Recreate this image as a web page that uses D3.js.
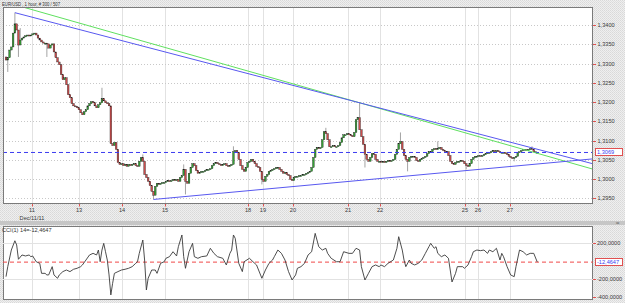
<!DOCTYPE html>
<html>
<head>
<meta charset="utf-8">
<script src="https://cdn.jsdelivr.net/npm/d3@7"></script>
<style>
  body { margin: 0; background: #e6e6e6; }
  svg { display: block; font-family: "Liberation Sans", Arial, sans-serif; }
</style>
</head>
<body>
<svg id="chart" width="625" height="303"></svg>
<script>
// EUR/USD 1h, 300 bars, closes (open = previous close)
var firstOpen = 1.3317;
var closes = [
  1.3309,1.3315,1.3335,1.3343,1.3379,1.3403,1.3387,1.3348,1.3361,1.3366,
  1.3369,1.3372,1.3374,1.3372,1.3374,1.3377,1.3379,1.3374,1.3366,1.3361,
  1.3356,1.3353,1.3353,1.3351,1.3340,1.3348,1.3351,1.3330,1.3315,1.3304,
  1.3297,1.3271,1.3258,1.3263,1.3245,1.3219,1.3211,1.3196,1.3190,1.3188,
  1.3185,1.3180,1.3172,1.3167,1.3175,1.3180,1.3190,1.3196,1.3201,1.3198,
  1.3190,1.3185,1.3193,1.3198,1.3209,1.3203,1.3198,1.3196,1.3190,1.3092,
  1.3087,1.3095,1.3077,1.3043,1.3038,1.3040,1.3035,1.3038,1.3033,1.3038,
  1.3035,1.3038,1.3040,1.3035,1.3033,1.3046,1.3056,1.3046,1.3012,1.3004,
  1.2994,1.2983,1.2968,1.2958,1.2981,1.2989,1.2986,1.2989,1.2991,1.2991,
  1.2994,1.2996,1.2994,1.2996,1.2999,1.2996,1.2999,1.2994,1.3004,1.3009,
  1.3025,1.2994,1.2989,1.3015,1.3030,1.3040,1.3035,1.3022,1.3015,1.3017,
  1.3020,1.3020,1.3022,1.3025,1.3025,1.3027,1.3035,1.3040,1.3043,1.3040,
  1.3038,1.3035,1.3038,1.3040,1.3035,1.3033,1.3035,1.3038,1.3071,1.3074,
  1.3069,1.3051,1.3035,1.3025,1.3020,1.3030,1.3043,1.3046,1.3051,1.3046,
  1.3040,1.3033,1.3030,1.3020,1.2999,1.2994,1.3007,1.3012,1.3020,1.3022,
  1.3025,1.3027,1.3030,1.3030,1.3025,1.3020,1.3015,1.3017,1.3012,1.3009,
  1.2999,1.2996,1.3004,1.3007,1.3007,1.3009,1.3009,1.3012,1.3012,1.3015,
  1.3017,1.3020,1.3030,1.3056,1.3077,1.3082,1.3079,1.3082,1.3102,1.3123,
  1.3118,1.3102,1.3084,1.3084,1.3087,1.3084,1.3084,1.3087,1.3095,1.3107,
  1.3115,1.3115,1.3118,1.3115,1.3113,1.3110,1.3121,1.3154,1.3159,1.3128,
  1.3110,1.3090,1.3064,1.3051,1.3046,1.3056,1.3066,1.3064,1.3051,1.3046,
  1.3046,1.3043,1.3046,1.3043,1.3046,1.3048,1.3046,1.3048,1.3051,1.3064,
  1.3077,1.3092,1.3097,1.3077,1.3061,1.3051,1.3046,1.3056,1.3059,1.3059,
  1.3056,1.3048,1.3046,1.3051,1.3053,1.3056,1.3059,1.3066,1.3071,1.3071,
  1.3077,1.3079,1.3077,1.3079,1.3082,1.3077,1.3074,1.3071,1.3071,1.3061,
  1.3046,1.3040,1.3038,1.3043,1.3046,1.3046,1.3048,1.3046,1.3040,1.3035,
  1.3033,1.3040,1.3051,1.3056,1.3059,1.3059,1.3061,1.3059,1.3061,1.3064,
  1.3066,1.3069,1.3069,1.3071,1.3074,1.3071,1.3074,1.3071,1.3069,1.3069,
  1.3069,1.3066,1.3064,1.3059,1.3056,1.3053,1.3056,1.3059,1.3069,1.3071,
  1.3074,1.3077,1.3077,1.3074,1.3077,1.3079,1.3077,1.3071,1.3069,1.3069
];
// visible wicks: [bar, price]
var spikeHigh = [[5,1.3432],[8,1.3392],[54,1.3237],[77,1.3064],[100,1.3038],[128,1.3085],
  [180,1.3133],[199,1.3198],[222,1.3121],[243,1.3098],[296,1.3085]];
var spikeLow = [[1,1.3278],[7,1.3317],[23,1.3317],[83,1.2947],[101,1.2960],[144,1.2986],
  [202,1.3030],[226,1.3020],[259,1.3025],[286,1.3046]];

var priceTicks = [1.2950,1.3000,1.3050,1.3100,1.3150,1.3200,1.3250,1.3300,1.3350,1.3400];
var lastPrice = 1.3069;

// day separators (bar position) and their labels
var dayBars = [14.6,41.1,65.3,89.5,136.2,144.6,161.5,192.5,210.5,258.3,265.6,283.6];
var dayLabels = ["11","13","14","15","18","19","20","21","22","25","26","27"];
var monthLabel = "Dec/11/11";

// trend lines: two anchor points [bar, price], extended to the right edge
var upperLine = [[5,1.3432],[199,1.3198]];
var greenLine = [[10,1.3446],[199,1.3198]];
var lowerLine = [[83,1.2947],[259,1.3022]];

// CCI(14)
var cciBars = [0,1,3,5,6,7,9,11,13,14,15,17,19,20,22,23,24,26,27,29,30,32,34,36,38,40,42,43,45,47,
  49,51,52,53,54,55,56,57,58,59,60,61,63,65,67,69,71,73,74,75,77,78,79,80,82,84,85,87,89,90,
  92,94,96,97,99,100,101,103,105,106,108,110,113,115,117,119,122,124,126,127,128,129,131,133,134,
  137,139,141,144,146,148,150,151,153,155,157,159,161,163,164,166,168,170,172,174,176,178,180,181,
  183,186,188,190,193,195,197,199,200,202,204,206,208,210,211,213,215,218,220,221,223,224,225,227,
  228,230,232,234,236,238,239,241,242,243,245,247,249,250,251,253,254,257,258,260,262,263,265,267,
  269,271,272,274,276,278,279,280,282,284,286,287,289,291,293,295,297,299];
var cciValues = [-174,-63,122,225,178,19,67,56,67,48,56,-8,-26,-137,-137,-155,-155,-63,-155,-192,
  -155,-118,-100,-118,-92,-81,-63,-44,11,67,85,67,122,-8,122,196,103,11,-155,-377,
  -248,-137,-118,-100,-92,-81,-63,-26,-8,85,233,11,-322,-192,-100,-100,-137,-26,-8,30,
  48,103,56,159,289,48,-81,103,196,48,30,48,56,141,85,48,30,-44,85,122,
  289,252,-26,-118,-8,30,-8,-44,-192,-100,-26,11,48,122,85,11,-118,-211,-155,-81,
  -63,-26,67,103,307,159,122,141,85,30,-8,-8,103,85,85,141,122,-63,-211,-137,
  -63,-44,-63,-44,-63,-26,11,141,270,122,11,-63,11,-26,-44,-26,11,85,159,196,
  141,159,85,48,67,30,-100,-233,-137,-63,-63,-81,-44,48,103,122,115,122,85,122,
  103,141,11,85,48,-63,-155,-174,-63,122,103,67,85,85,-12.4647];
var cciTicks = [200,-200,-400];
var cciLast = -12.4647;

// ---- layout
var svg = d3.select("#chart");
var L = 3, R = 593;
var main = {top: 7, bottom: 204};
var sub = {top: 226, bottom: 300};

var loc = d3.formatLocale({decimal: ",", thousands: ".", grouping: [3], currency: ["", ""], minus: "-"});
var fmt4 = loc.format(".4f");

var x = d3.scaleLinear().domain([0, 299]).range([6, 537.3]);
var y = d3.scaleLinear().domain([1.295, 1.34]).range([198.3, 25]);
var yc = d3.scaleLinear().domain([-200, 200]).range([279, 243]);

// dithered background
var defs = svg.append("defs");
var pat = defs.append("pattern").attr("id", "dots").attr("width", 2).attr("height", 2)
  .attr("patternUnits", "userSpaceOnUse");
pat.append("rect").attr("width", 2).attr("height", 2).attr("fill", "#efefef");
pat.append("rect").attr("width", 1).attr("height", 1).attr("fill", "#d9d9d9");
pat.append("rect").attr("x", 1).attr("y", 1).attr("width", 1).attr("height", 1).attr("fill", "#dfdfdf");
svg.append("rect").attr("width", 625).attr("height", 303).attr("fill", "url(#dots)");

// splitter between panels
svg.append("rect").attr("x", 0).attr("y", 221).attr("width", 625).attr("height", 4).attr("fill", "#c6c6c6");

["main", "sub"].forEach(function(n) {
  var p = n == "main" ? main : sub;
  defs.append("clipPath").attr("id", "clip-" + n).append("rect")
    .attr("x", L).attr("y", p.top).attr("width", R - L).attr("height", p.bottom - p.top);
  svg.append("rect").attr("x", L + 0.5).attr("y", p.top + 0.5)
    .attr("width", R - L - 1).attr("height", p.bottom - p.top - 1).attr("fill", "#fff");
});

// vertical day grid in both panels
[main, sub].forEach(function(p) {
  svg.append("g").selectAll("line").data(dayBars).join("line")
    .attr("x1", function(d) { return Math.round(x(d)) + 0.5; })
    .attr("x2", function(d) { return Math.round(x(d)) + 0.5; })
    .attr("y1", p.top).attr("y2", p.bottom)
    .attr("stroke", "#e2e2e2");
});

// price grid
svg.append("g").selectAll("line").data(priceTicks).join("line")
  .attr("x1", L).attr("x2", R)
  .attr("y1", function(d) { return Math.round(y(d)) + 0.5; })
  .attr("y2", function(d) { return Math.round(y(d)) + 0.5; })
  .attr("stroke", "#c8c8c8").attr("stroke-dasharray", "1,2");

// ---- candles
var bars = closes.map(function(c, i) {
  var o = i ? closes[i - 1] : firstOpen;
  return {i: i, o: o, c: c, h: Math.max(o, c), l: Math.min(o, c)};
});
spikeHigh.forEach(function(s) { bars[s[0]].h = Math.max(bars[s[0]].h, s[1]); });
spikeLow.forEach(function(s) { bars[s[0]].l = Math.min(bars[s[0]].l, s[1]); });

var plot = svg.append("g").attr("clip-path", "url(#clip-main)");

plot.append("g").selectAll("line").data(bars).join("line")
  .attr("x1", function(d) { return x(d.i); }).attr("x2", function(d) { return x(d.i); })
  .attr("y1", function(d) { return y(d.h); }).attr("y2", function(d) { return y(d.l); })
  .attr("stroke", "#9a9a9a").attr("stroke-width", 0.9);

plot.append("g").selectAll("rect").data(bars).join("rect")
  .attr("x", function(d) { return x(d.i) - 0.85; })
  .attr("width", 1.7)
  .attr("y", function(d) { return y(Math.max(d.o, d.c)); })
  .attr("height", function(d) { return Math.max(1, Math.abs(y(d.o) - y(d.c))); })
  .attr("fill", function(d) { return d.c >= d.o ? "#35a035" : "#cc4c4c"; })
  .attr("stroke", "#1e1e1e").attr("stroke-width", 0.35);

// current price line
plot.append("line").attr("x1", L).attr("x2", R)
  .attr("y1", y(lastPrice)).attr("y2", y(lastPrice))
  .attr("stroke", "#3c3cf0").attr("stroke-dasharray", "4,3");

// trend lines
var xEnd = x.invert(R);
function extend(pts) {
  var s = (pts[1][1] - pts[0][1]) / (pts[1][0] - pts[0][0]);
  return [pts[0], [xEnd, pts[1][1] + s * (xEnd - pts[1][0])]];
}
var tline = d3.line().x(function(d) { return x(d[0]); }).y(function(d) { return y(d[1]); });
[[greenLine, "#5fe05f"], [upperLine, "#5858f0"], [lowerLine, "#5858f0"]].forEach(function(t) {
  plot.append("path").attr("d", tline(extend(t[0])))
    .attr("fill", "none").attr("stroke", t[1]).attr("stroke-width", 1);
});

// frames
[main, sub].forEach(function(p) {
  svg.append("rect").attr("x", L + 0.5).attr("y", p.top + 0.5)
    .attr("width", R - L - 1).attr("height", p.bottom - p.top - 1)
    .attr("fill", "none").attr("stroke", "#7a7a7a");
});

// right price axis
var ax = svg.append("g").attr("font-size", 5.6).attr("fill", "#3a3a3a");
ax.selectAll("line").data(priceTicks).join("line")
  .attr("x1", R).attr("x2", R + 3)
  .attr("y1", function(d) { return Math.round(y(d)) + 0.5; })
  .attr("y2", function(d) { return Math.round(y(d)) + 0.5; })
  .attr("stroke", "#e05050");
ax.selectAll("text").data(priceTicks).join("text")
  .attr("x", R + 4.5).attr("y", function(d) { return y(d) + 2; })
  .text(fmt4);

function valueBox(yy, label) {
  svg.append("rect").attr("x", 595.5).attr("y", Math.round(yy) - 3.5)
    .attr("width", 27).attr("height", 7).attr("fill", "#fff").attr("stroke", "#e05050");
  svg.append("text").attr("x", 597).attr("y", yy + 2).attr("font-size", 5.6)
    .attr("fill", "#3c3cf0").text(label);
}
valueBox(y(lastPrice), fmt4(lastPrice));

// bottom day axis
var dx = svg.append("g").attr("font-size", 5.6).attr("fill", "#3a3a3a");
dx.selectAll("line").data(dayBars).join("line")
  .attr("x1", function(d) { return Math.round(x(d)) + 0.5; })
  .attr("x2", function(d) { return Math.round(x(d)) + 0.5; })
  .attr("y1", main.bottom).attr("y2", main.bottom + 2.5)
  .attr("stroke", "#e05050");
dx.selectAll("text").data(dayLabels).join("text")
  .attr("x", function(d, i) { return x(dayBars[i]); }).attr("y", 212)
  .attr("text-anchor", "middle").text(function(d) { return d; });
dx.append("text").attr("x", x(dayBars[0])).attr("y", 220)
  .attr("text-anchor", "middle").text(monthLabel);

// title
svg.append("text").attr("x", 2).attr("y", 5.5).attr("font-size", 5.6).attr("fill", "#333")
  .attr("textLength", 58).attr("lengthAdjust", "spacingAndGlyphs")
  .text("EUR/USD , 1 hour, # 300 / 507");

// ---- CCI panel
var cplot = svg.append("g").attr("clip-path", "url(#clip-sub)");
cplot.append("g").selectAll("line").data([200, -200]).join("line")
  .attr("x1", L).attr("x2", R)
  .attr("y1", function(d) { return Math.round(yc(d)) + 0.5; })
  .attr("y2", function(d) { return Math.round(yc(d)) + 0.5; })
  .attr("stroke", "#e2e2e2");
cplot.append("line").attr("x1", L).attr("x2", R)
  .attr("y1", yc(cciLast)).attr("y2", yc(cciLast))
  .attr("stroke", "#f04848").attr("stroke-dasharray", "4,3");
cplot.append("path")
  .attr("d", d3.line().x(function(d, i) { return x(cciBars[i]); }).y(function(d) { return yc(d); })(cciValues))
  .attr("fill", "none").attr("stroke", "#3a3a3a").attr("stroke-width", 0.9);

var cax = svg.append("g").attr("font-size", 5.6).attr("fill", "#3a3a3a");
cax.selectAll("line").data(cciTicks).join("line")
  .attr("x1", R).attr("x2", R + 3)
  .attr("y1", function(d) { return Math.round(yc(d)) + 0.5; })
  .attr("y2", function(d) { return Math.round(yc(d)) + 0.5; })
  .attr("stroke", "#e05050");
cax.selectAll("text").data(cciTicks).join("text")
  .attr("x", R + 4).attr("y", function(d) { return yc(d) + 2; })
  .text(fmt4);
valueBox(yc(cciLast), fmt4(cciLast));

svg.append("text").attr("x", 2).attr("y", 232).attr("font-size", 5.6).attr("fill", "#333")
  .text("CCI(1) 14=" + fmt4(cciLast));
svg.append("text").attr("x", 616).attr("y", 225).attr("font-size", 6).attr("fill", "#555").text("≈");
</script>
</body>
</html>
